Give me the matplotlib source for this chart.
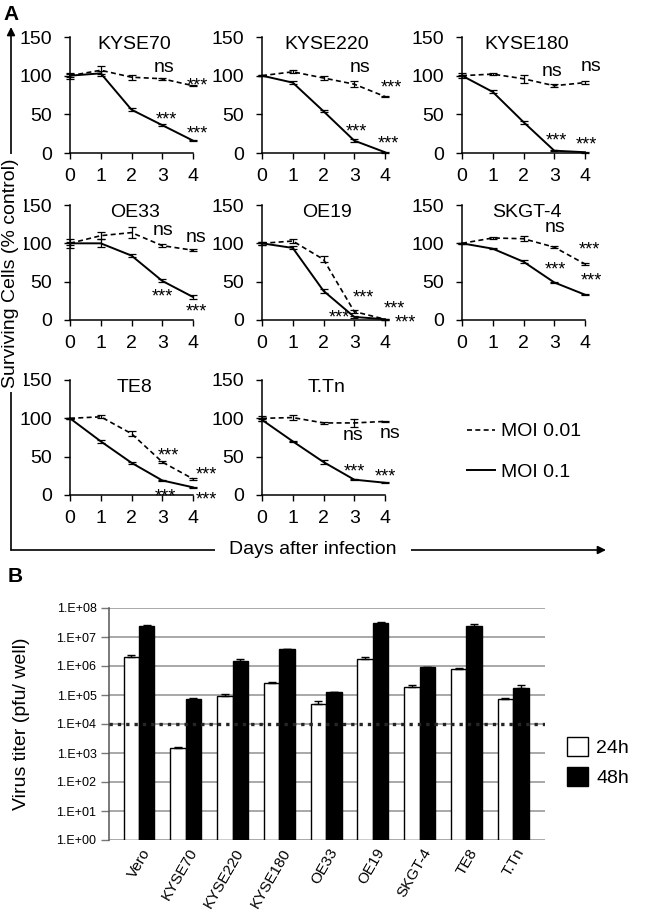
import numpy as np
import matplotlib
matplotlib.use('Agg')
import matplotlib.pyplot as plt
from matplotlib.lines import Line2D
from matplotlib.patches import Patch, FancyArrowPatch
from matplotlib.ticker import NullLocator
from matplotlib.transforms import ScaledTranslation

plt.rcParams['font.family'] = ['Liberation Sans', 'DejaVu Sans']

# ---- panel A: surviving cells (% control) ----
days = [0, 1, 2, 3, 4]
lines_a = ['KYSE70', 'KYSE220', 'KYSE180', 'OE33', 'OE19', 'SKGT-4', 'TE8', 'T.Tn']

moi001_mean = [[100, 107, 98, 96, 87],
               [100, 105, 97, 89, 73],
               [100, 102, 96, 87, 91],
               [100, 110, 114, 97, 91],
               [100, 103, 79, 11, 1],
               [100, 107, 106, 95, 73],
               [100, 102, 80, 43, 21],
               [100, 101, 94, 94, 96]]
moi001_sd = [[4, 5, 3, 1, 1],
             [1, 2, 3, 4, 1],
             [3, 1, 5, 2, 2],
             [6, 5, 7, 2, 1],
             [2, 3, 4, 2, 0.5],
             [1, 1, 3, 1, 1],
             [1, 2, 3, 1, 1],
             [3, 3, 1, 5, 1]]
moi01_mean = [[100, 103, 56, 36, 16],
              [100, 91, 54, 16, 1],
              [100, 79, 40, 3, 1],
              [100, 100, 84, 51, 30],
              [100, 94, 38, 4, 1],
              [100, 93, 76, 49, 33],
              [100, 70, 42, 19, 10],
              [98, 70, 43, 20, 16]]
moi01_sd = [[2, 3, 2, 1, 1],
            [1, 2, 1, 2, 0.5],
            [1, 2, 2, 1, 0.5],
            [2, 5, 2, 2, 2],
            [2, 2, 3, 1, 0.5],
            [1, 1, 2, 1, 1],
            [1, 2, 1, 1, 1],
            [1, 1, 2, 1, 1]]

# significance labels: (text, day, value)
marks_a = [[('ns', 3.07, 111), ('***', 4.13, 94), ('***', 3.13, 50), ('***', 4.13, 32)],
           [('ns', 3.2, 110), ('***', 4.2, 91), ('***', 3.07, 34), ('***', 4.1, 19)],
           [('ns', 2.92, 106), ('ns', 4.2, 112), ('***', 3.06, 22), ('***', 4.04, 17)],
           [('ns', 3.04, 117), ('ns', 4.1, 107), ('***', 3.0, 37), ('***', 4.1, 18)],
           [('***', 3.3, 36), ('***', 4.3, 21), ('***', 2.52, 10), ('***', 4.65, 3)],
           [('ns', 3.03, 120), ('***', 4.15, 98), ('***', 3.03, 72), ('***', 4.2, 58)],
           [('***', 3.2, 58), ('***', 4.45, 33), ('***', 3.1, 4), ('***', 4.45, 1)],
           [('ns', 2.97, 78), ('ns', 4.15, 80), ('***', 3.0, 37), ('***', 4.0, 30)]]

# ---- panel B: virus titer ----
lines_b = ['Vero', 'KYSE70', 'KYSE220', 'KYSE180', 'OE33', 'OE19', 'SKGT-4', 'TE8', 'T.Tn']
titer_24h = [2.1e6, 1.5e3, 9.0e4, 2.6e5, 5.0e4, 1.75e6, 1.9e5, 7.8e5, 7.3e4]
titer_24h_err = [3e5, 1e2, 1.5e4, 2e4, 1e4, 2.5e5, 3e4, 8e4, 3e3]
titer_48h = [2.4e7, 7.3e4, 1.45e6, 3.8e6, 1.25e5, 3.1e7, 9.0e5, 2.4e7, 1.8e5]
titer_48h_err = [1.5e6, 5e3, 2.5e5, 2e5, 5e3, 2e6, 5e4, 3e6, 4e4]
detect_limit = 1e4

W, H = 647, 916


def rect(l, t, r, b):
    return [l / W, 1 - b / H, (r - l) / W, (b - t) / H]


def fpt(x, y):
    return (x / W, 1 - y / H)


fig = plt.figure(figsize=(W / 100, H / 100), dpi=100)

cols = [(70, 193), (262, 385), (462, 585)]
rows = [(37, 153), (205, 320), (380, 495)]
dash = (0, (3, 2))

for i, name in enumerate(lines_a):
    r, c = divmod(i, 3)
    ax = fig.add_axes(rect(cols[c][0], rows[r][0], cols[c][1], rows[r][1]))
    e1 = ax.errorbar(days, moi001_mean[i], yerr=moi001_sd[i], color='black', lw=1.2, ls=dash,
                     capsize=3, elinewidth=0.9, capthick=0.9)
    e2 = ax.errorbar(days, moi01_mean[i], yerr=moi01_sd[i], color='black', lw=1.4,
                     capsize=3, elinewidth=0.9, capthick=0.9)
    for cont in (e1, e2):
        for art in cont.get_children():
            art.set_clip_on(False)
    ax.set_xlim(0, 4)
    ax.set_ylim(0, 150)
    ax.set_xticks(days)
    ax.set_yticks([0, 50, 100, 150])
    for s in ['top', 'right']:
        ax.spines[s].set_visible(False)
    for s in ['left', 'bottom']:
        ax.spines[s].set_linewidth(1.1)
    ax.tick_params(axis='x', labelsize=14, length=4, width=1, pad=7)
    ax.tick_params(axis='y', labelsize=14, length=4, width=1, pad=9)
    ax.text(2.1, 140, name, ha='center', va='center', fontsize=14)
    for txt, xd, yv in marks_a[i]:
        if txt == '***':
            ax.text(xd, yv - 7, txt, ha='center', va='center', fontsize=13)
        else:
            ax.text(xd, yv, txt, ha='center', va='center', fontsize=14)

fig.legend(handles=[Line2D([], [], color='black', lw=1.2, ls=dash),
                    Line2D([], [], color='black', lw=1.4)],
           labels=['MOI 0.01', 'MOI 0.1'], loc='center left', bbox_to_anchor=fpt(467, 452),
           frameon=False, fontsize=14, handlelength=1.45, handletextpad=0.3,
           labelspacing=1.2, borderpad=0, borderaxespad=0)

# axis arrows around panel A
fig.add_artist(FancyArrowPatch(fpt(11, 550), fpt(11, 27), transform=fig.transFigure,
                               arrowstyle='-|>', mutation_scale=12, lw=1.2, color='black',
                               shrinkA=0, shrinkB=0, zorder=1))
fig.add_artist(FancyArrowPatch(fpt(11, 550), fpt(606, 550), transform=fig.transFigure,
                               arrowstyle='-|>', mutation_scale=12, lw=1.2, color='black',
                               shrinkA=0, shrinkB=0, zorder=1))
fig.text(*fpt(11, 273), 'Surviving Cells (% control)', rotation=90, ha='center', va='center',
         fontsize=14, zorder=3, bbox=dict(facecolor='white', edgecolor='none', pad=3))
fig.text(*fpt(313, 550), 'Days after infection', ha='center', va='center', fontsize=14,
         zorder=3, bbox=dict(facecolor='white', edgecolor='none', pad=10))

fig.text(*fpt(3, 15), 'A', fontsize=15, fontweight='bold', ha='left', va='center')
fig.text(*fpt(8, 577), 'B', fontsize=15, fontweight='bold', ha='left', va='center')

# ---- panel B ----
axb = fig.add_axes(rect(109, 608, 545, 840))
x = np.arange(len(lines_b))
bw = 0.33
axb.set_yscale('log')
axb.bar(x - bw / 2, np.array(titer_24h) - 1, bottom=1, width=bw, color='white',
        edgecolor='black', lw=1, zorder=3)
axb.bar(x + bw / 2, np.array(titer_48h) - 1, bottom=1, width=bw, color='black',
        edgecolor='black', lw=1, zorder=3)
axb.errorbar(x - bw / 2, titer_24h, yerr=[np.zeros(len(x)), titer_24h_err], fmt='none',
             ecolor='black', elinewidth=1, capsize=3, zorder=4)
axb.errorbar(x + bw / 2, titer_48h, yerr=[np.zeros(len(x)), titer_48h_err], fmt='none',
             ecolor='black', elinewidth=1, capsize=3, zorder=4)
axb.axhline(detect_limit, color='#262626', lw=2.4, ls=(0, (1, 1.5)), zorder=5)
axb.set_ylim(1, 1e8)
axb.set_xlim(-0.64, 8.68)
axb.set_yticks([10.0 ** k for k in range(9)])
axb.set_yticklabels(['1.E+%02d' % k for k in range(9)])
axb.yaxis.set_minor_locator(NullLocator())
axb.yaxis.grid(True, color='#999999', lw=1.2, zorder=0)
axb.set_axisbelow(True)
for s in ['top', 'right', 'bottom']:
    axb.spines[s].set_visible(False)
axb.spines['left'].set_color('#555555')
axb.spines['left'].set_linewidth(1.1)
axb.tick_params(axis='y', labelsize=9, length=6, color='#777777', width=1, pad=3)
axb.tick_params(axis='x', length=0, pad=7)
axb.set_xticks(x)
axb.set_xticklabels(lines_b, rotation=60, ha='right', va='center', rotation_mode='anchor',
                    fontsize=11)
for lab in axb.get_xticklabels():
    lab.set_transform(lab.get_transform() + ScaledTranslation(8 / 100, 0, fig.dpi_scale_trans))

fig.text(*fpt(22, 724), 'Virus titer (pfu/ well)', rotation=90, ha='center', va='center',
         fontsize=14)

fig.legend(handles=[Patch(facecolor='white', edgecolor='black', lw=1),
                    Patch(facecolor='black', edgecolor='black')],
           labels=['24h', '48h'], loc='center left', bbox_to_anchor=fpt(567, 762),
           frameon=False, fontsize=14, handlelength=1.1, handleheight=1.1,
           handletextpad=0.4, labelspacing=0.5, borderpad=0, borderaxespad=0)

fig.savefig('out.png', dpi=100)
